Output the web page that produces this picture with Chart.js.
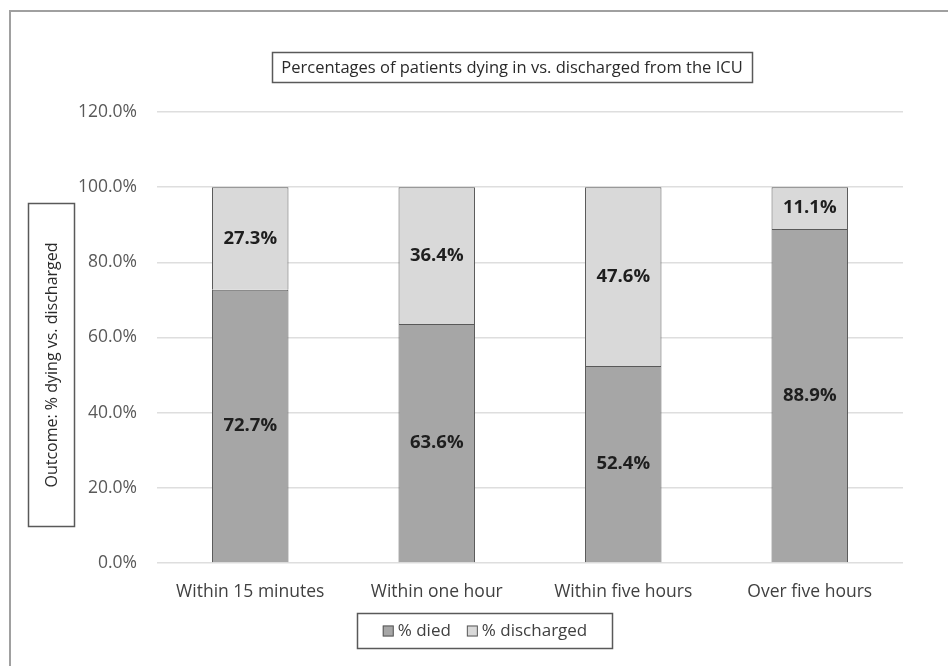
<!DOCTYPE html>
<html>
<head>
<meta charset="utf-8">
<script src="https://cdn.jsdelivr.net/npm/chart.js@4"></script>
<style>
  html, body { margin: 0; padding: 0; background: #fff; }
  #wrap { position: relative; width: 948px; height: 666px; overflow: hidden; }
  #frame { position: absolute; left: 9px; top: 10px; right: -10px; bottom: -10px;
           border-left: 2px solid #a0a0a0; border-top: 2px solid #a0a0a0; }
  canvas { position: absolute; left: 0; top: 0; }
</style>
</head>
<body>
<div id="wrap">
  <div id="frame"></div>
  <canvas id="chart" width="948" height="666"></canvas>
</div>
<script>
// data
const categories = ["Within 15 minutes", "Within one hour", "Within five hours", "Over five hours"];
const died = [72.7, 63.6, 52.4, 88.9];
const discharged = [27.3, 36.4, 47.6, 11.1];
const seriesNames = ["% died", "% discharged"];
const yTicks = [0, 20, 40, 60, 80, 100, 120];

const chartTitle = "Percentages of patients dying in vs. discharged from the ICU";
const yTitle = "Outcome: % dying vs. discharged";

const FONT = "'Open Sans', 'Liberation Sans', sans-serif";

// boxes, labels and legend drawn on top of the chart
const extras = {
  id: "extras",
  afterDatasetsDraw(chart) {
    const ctx = chart.ctx;
    ctx.save();
    // value labels in the middle of each segment
    ctx.font = "bold 18.5px " + FONT;
    ctx.fillStyle = "#1e1e1e";
    ctx.textAlign = "center";
    ctx.textBaseline = "middle";
    chart.data.datasets.forEach((ds, i) => {
      chart.getDatasetMeta(i).data.forEach((bar, j) => {
        ctx.fillText(ds.data[j].toFixed(1) + "%", bar.x, (bar.y + bar.base) / 2);
      });
    });
    ctx.restore();
  },
  afterDraw(chart) {
    const ctx = chart.ctx;
    ctx.save();
    ctx.strokeStyle = "#595959";
    ctx.lineWidth = 1.5;
    ctx.textBaseline = "middle";

    // chart title in a box
    ctx.font = "16.5px " + FONT;
    ctx.fillStyle = "#2a2a2a";
    ctx.textAlign = "center";
    ctx.fillText(chartTitle, 512, 68);
    ctx.strokeRect(272.5, 52.5, 480, 30);

    // y axis title in a box
    ctx.font = "16px " + FONT;
    ctx.strokeRect(28.5, 203.5, 46, 323);
    ctx.save();
    ctx.translate(52, 365);
    ctx.rotate(-Math.PI / 2);
    ctx.fillText(yTitle, 0, 0);
    ctx.restore();

    // legend
    ctx.strokeRect(357.5, 613.5, 255, 35);
    ctx.font = "17px " + FONT;
    ctx.textAlign = "left";
    const sq = 11, gap = 4, spacing = 16;
    const widths = seriesNames.map(n => ctx.measureText(n).width);
    const total = widths.reduce((a, w) => a + sq + gap + w, 0) + spacing;
    let x = 485 - total / 2;
    const cy = 631;
    chart.data.datasets.forEach((ds, i) => {
      ctx.fillStyle = ds.backgroundColor;
      ctx.fillRect(x, cy - sq / 2, sq, sq);
      ctx.lineWidth = 1;
      ctx.strokeRect(x + 0.5, cy - sq / 2 + 0.5, sq - 1, sq - 1);
      ctx.fillStyle = "#404040";
      ctx.fillText(ds.label, x + sq + gap, cy);
      x += sq + gap + widths[i] + spacing;
    });
    ctx.restore();
  }
};

new Chart(document.getElementById("chart"), {
  type: "bar",
  data: {
    labels: categories,
    datasets: [
      { label: seriesNames[0], data: died, backgroundColor: "#a6a6a6",
        borderColor: "#595959", borderWidth: 1 },
      { label: seriesNames[1], data: discharged, backgroundColor: "#d9d9d9",
        borderColor: "#595959", borderWidth: 1 }
    ]
  },
  options: {
    responsive: false,
    animation: false,
    events: [],
    barPercentage: 0.41,
    categoryPercentage: 1,
    layout: { padding: { top: 112, right: 45, bottom: 63, left: 0 } },
    plugins: {
      legend: { display: false },
      title: { display: false },
      tooltip: { enabled: false }
    },
    scales: {
      x: {
        stacked: true,
        grid: { display: false },
        border: { display: false },
        ticks: { color: "#404040", font: { family: FONT, size: 17.5 }, padding: 11, maxRotation: 0 },
        afterFit: s => { s.height = 40; }
      },
      y: {
        stacked: true,
        min: 0,
        max: 120,
        afterBuildTicks: s => { s.ticks = yTicks.map(v => ({ value: v })); },
        grid: { color: "#dedede", lineWidth: 1.5, drawTicks: false },
        border: { display: false },
        ticks: {
          color: "#595959",
          font: { family: FONT, size: 17.5 },
          padding: 20,
          callback: v => v.toFixed(1) + "%"
        },
        afterFit: s => { s.width = 157; }
      }
    }
  },
  plugins: [extras]
});
</script>
</body>
</html>
